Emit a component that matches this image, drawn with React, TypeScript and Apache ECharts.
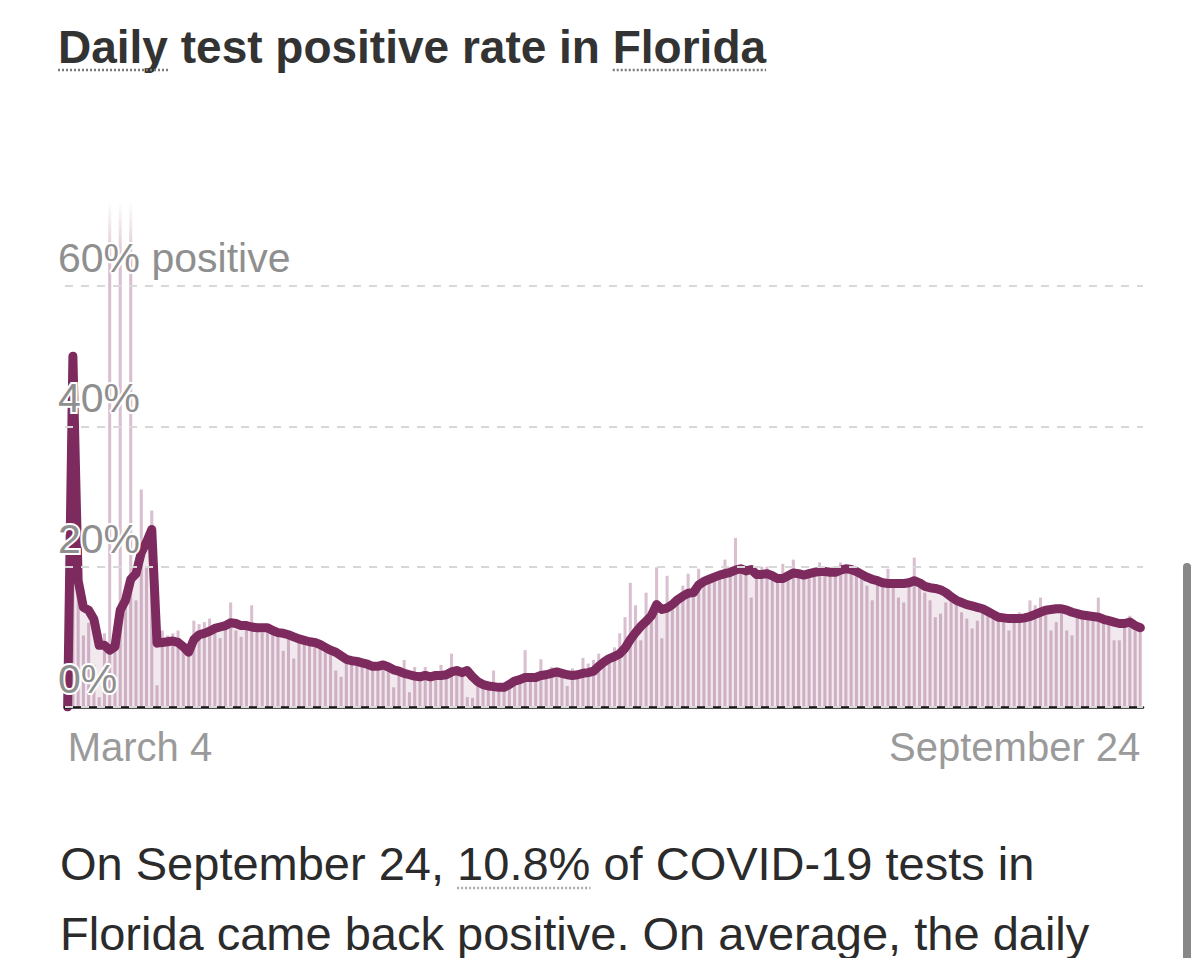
import React, { useEffect, useRef } from "react";
import * as echarts from "echarts";

// Daily share of COVID-19 tests that came back positive in Florida (%), March 4 – September 24
const dailyRate: number[] = [
  0, 48, 16, 10.2, 12, 6, 1.4, 10.5, 72, 8.5,
  72, 14.5, 72, 15.2, 31, 20, 28, 3.1, 10.9, 10.2,
  10.5, 10.9, 8.1, 7.9, 12.3, 11.8, 12.1, 12.6, 10.5, 9.8,
  11.5, 14.9, 10.9, 10.0, 11.2, 14.5, 11.0, 10.6, 11.2, 10.4,
  10.8, 8.0, 9.8, 6.9, 9.2, 9.6, 8.8, 9.0, 8.3, 8.6,
  7.9, 5.2, 4.3, 6.5, 6.4, 6.2, 5.9, 6.0, 5.6, 5.2,
  6.1, 5.5, 2.8, 5.0, 6.7, 2.1, 5.7, 4.0, 5.7, 3.8,
  4.1, 6.0, 4.4, 7.6, 5.0, 4.6, 1.4, 1.3, 3.0, 2.6,
  2.9, 5.2, 2.5, 2.7, 3.6, 3.8, 3.7, 8.1, 3.9, 4.0,
  6.8, 4.4, 5.7, 4.7, 4.5, 3.0, 5.5, 4.5, 7.0, 6.2,
  6.7, 7.6, 6.5, 7.5, 8.5, 10.5, 12.8, 17.7, 14.5, 9.5,
  16.3, 13.5, 19.9, 9.8, 18.7, 14.0, 15.5, 17.3, 19.0, 16.0,
  19.7, 18.0, 18.5, 18.6, 19.0, 21.0, 19.0, 24.1, 19.8, 19.2,
  15.6, 19.0, 20.0, 20.0, 18.5, 18.0, 20.4, 18.5, 21.0, 18.8,
  18.5, 19.0, 19.3, 20.6, 19.0, 19.2, 18.9, 20.6, 19.6, 19.5,
  19.0, 18.6, 17.3, 15.2, 18.0, 17.5, 19.7, 17.2, 15.6, 14.9,
  17.5, 21.3, 17.6, 16.3, 15.2, 12.8, 13.3, 14.9, 15.3, 15.0,
  13.5, 12.6, 11.2, 12.3, 13.8, 13.2, 12.9, 12.5, 12.4, 10.9,
  12.3, 13.5, 12.5, 15.2, 14.5, 15.6, 13.5, 10.9, 12.1, 13.9,
  10.9, 10.2, 13.0, 12.8, 12.9, 12.6, 15.6, 12.2, 12.0, 9.5,
  9.5, 11.8, 13.0, 10.9, 10.8,
];

// Seven-day average (%)
const weeklyAverage: number[] = [
  0, 50, 18, 14.2, 13.8, 12.5, 8.8, 8.8, 8.1, 8.6,
  13.8, 15.2, 18.2, 19.0, 22.0, 23.5, 25.3, 9.1, 9.2, 9.3,
  9.4, 9.2, 8.6, 7.8, 9.6, 10.3, 10.5, 10.8, 11.2, 11.4,
  11.6, 12.0, 11.9, 11.6, 11.6, 11.4, 11.3, 11.3, 11.3, 10.9,
  10.6, 10.5, 10.3, 10.0, 9.7, 9.5, 9.3, 9.2, 8.9, 8.5,
  8.1, 7.8, 7.3, 6.8, 6.6, 6.5, 6.3, 6.1, 5.8, 5.8,
  6.0, 5.7, 5.3, 5.1, 4.8, 4.6, 4.4, 4.3, 4.5, 4.3,
  4.5, 4.5, 4.6, 5.0, 5.2, 4.9, 5.2, 4.3, 3.6, 3.2,
  3.0, 2.9, 2.8, 2.8, 3.2, 3.7, 3.9, 4.2, 4.2, 4.2,
  4.5, 4.6, 4.8, 5.0, 4.8, 4.6, 4.5, 4.6, 4.8, 4.9,
  5.1, 5.8, 6.4, 6.9, 7.2, 7.6, 8.4, 9.6, 10.6, 11.5,
  12.2, 13.0, 14.6, 13.9, 14.1, 14.6, 15.3, 15.8, 16.2, 16.3,
  17.4, 17.9, 18.2, 18.5, 18.8, 19.0, 19.2, 19.5, 19.7, 19.4,
  19.6, 18.9, 18.9, 19.0, 18.7, 18.3, 18.3, 18.7, 19.1, 19.0,
  18.8, 19.0, 19.2, 19.3, 19.3, 19.2, 19.2, 19.5, 19.7, 19.6,
  19.3, 18.9, 18.5, 18.2, 18.0, 17.7, 17.6, 17.6, 17.6, 17.6,
  17.7, 18.0, 17.7, 17.2, 17.0, 16.9, 16.7, 16.3, 15.7, 15.2,
  14.9, 14.6, 14.4, 14.2, 14.0, 13.6, 13.2, 12.8, 12.7, 12.6,
  12.6, 12.6, 12.7, 12.9, 13.2, 13.5, 13.8, 13.9, 14.0, 14.0,
  13.8, 13.5, 13.3, 13.1, 13.0, 12.9, 12.8, 12.5, 12.3, 12.1,
  11.9, 11.9, 12.1, 11.6, 11.3,
];

const monthNames = [
  "January", "February", "March", "April", "May", "June",
  "July", "August", "September", "October", "November", "December",
];
const firstDay = { year: 2020, month: 2, day: 4 };

const yTicks: number[] = [0, 20, 40, 60];
const yTopLabelSuffix = " positive";

const titleText = "Daily test positive rate in Florida";
const titleUnderlined = ["Daily", "Florida"];
const bodyLine1Before = "On September 24, ";
const bodyHighlight = "10.8%";
const bodyLine1After = " of COVID-19 tests in";
const bodyLine2 = "Florida came back positive. On average, the daily";

const FONT = '"Liberation Sans", Arial, Helvetica, sans-serif';

function buildDates(n: number): string[] {
  const out: string[] = [];
  const d = new Date(firstDay.year, firstDay.month, firstDay.day);
  for (let i = 0; i < n; i++) {
    out.push(`${monthNames[d.getMonth()]} ${d.getDate()}`);
    d.setDate(d.getDate() + 1);
  }
  return out;
}

function measure(text: string, font: string): number {
  const c = document.createElement("canvas").getContext("2d");
  if (!c) return text.length * 20;
  c.font = font;
  return c.measureText(text).width;
}

export default function App() {
  const ref = useRef<HTMLDivElement>(null);

  useEffect(() => {
    if (!ref.current) return;
    const chart = echarts.init(ref.current, undefined, { renderer: "svg" });
    const dates = buildDates(dailyRate.length);
    const yMax = yTicks[yTicks.length - 1];
    const yStep = yTicks[1] - yTicks[0];

    const barBase = "#d9bfcf";
    const barData = dailyRate.map((v) =>
      v > yMax
        ? {
            value: v,
            itemStyle: {
              color: new echarts.graphic.LinearGradient(0, 0, 0, 1, [
                { offset: 0, color: "rgba(217,191,207,0)" },
                { offset: 0.12, color: barBase },
                { offset: 1, color: barBase },
              ]),
            },
          }
        : v
    );

    const titleFont = `bold 46px ${FONT}`;
    const bodyFont = `47px ${FONT}`;
    const titleX = 58;
    const w1Start = titleX;
    const w1Width = measure(titleUnderlined[0], titleFont);
    const w2Start = titleX + measure(titleText.slice(0, titleText.lastIndexOf(titleUnderlined[1])), titleFont);
    const w2Width = measure(titleUnderlined[1], titleFont);
    const bodyX = 60;
    const hlStart = bodyX + measure(bodyLine1Before, bodyFont);
    const hlWidth = measure(bodyHighlight, bodyFont);

    const dotted = (x1: number, x2: number, y: number, color: string) => ({
      type: "line",
      shape: { x1, y1: y, x2, y2: y },
      style: { stroke: color, lineWidth: 2.5, lineDash: [2, 2] },
      silent: true,
    });

    const axisLabelBase = {
      fontSize: 40,
      color: "#9a9a9a",
      fontFamily: FONT,
      margin: 20,
    };

    chart.setOption({
      animation: false,
      grid: { left: 65, right: 57, top: 286, bottom: 251, containLabel: false },
      xAxis: [
        {
          type: "category",
          data: dates,
          boundaryGap: true,
          z: 5,
          axisLine: { show: true, lineStyle: { color: "#151515", width: 2.5 } },
          axisTick: { show: false },
          splitLine: { show: false },
          axisLabel: {
            ...axisLabelBase,
            interval: (i: number) => i === 0,
            align: "left",
          },
        },
        {
          type: "category",
          data: dates,
          position: "bottom",
          boundaryGap: true,
          axisLine: { show: false },
          axisTick: { show: false },
          splitLine: { show: false },
          axisLabel: {
            ...axisLabelBase,
            interval: (i: number) => i === dates.length - 1,
            align: "right",
          },
        },
      ],
      yAxis: {
        type: "value",
        min: 0,
        max: yMax,
        interval: yStep,
        z: 6,
        axisLine: { show: false },
        axisTick: { show: false },
        splitLine: {
          show: true,
          lineStyle: { color: "#d8d8d8", width: 2, type: [8, 8] },
        },
        axisLabel: {
          inside: true,
          margin: -7,
          fontSize: 41,
          fontFamily: FONT,
          color: "#8f8f8f",
          verticalAlign: "bottom",
          lineHeight: 40,
          padding: [0, 0, 8, 0],
          textBorderColor: "#ffffff",
          textBorderWidth: 4,
          formatter: (v: number) => (v === yMax ? `${v}%${yTopLabelSuffix}` : `${v}%`),
        },
      },
      series: [
        {
          type: "bar",
          data: barData,
          barWidth: "58%",
          clip: false,
          itemStyle: { color: barBase },
          silent: true,
        },
        {
          type: "line",
          data: weeklyAverage,
          symbol: "none",
          showSymbol: false,
          smooth: false,
          lineStyle: { color: "#7d2b5e", width: 9, cap: "round", join: "round" },
          areaStyle: { color: "rgba(125,43,94,0.15)" },
          silent: true,
        },
      ],
      graphic: [
        {
          type: "text",
          x: titleX,
          y: 47,
          style: {
            text: titleText,
            font: titleFont,
            fill: "#333333",
            verticalAlign: "middle",
            align: "left",
          },
        },
        dotted(w1Start, w1Start + w1Width, 70, "#7a7a7a"),
        dotted(w2Start, w2Start + w2Width, 70, "#7a7a7a"),
        {
          type: "text",
          x: bodyX,
          y: 863,
          style: {
            text: bodyLine1Before + bodyHighlight + bodyLine1After,
            font: bodyFont,
            fill: "#2b2b2b",
            verticalAlign: "middle",
            align: "left",
          },
        },
        dotted(hlStart, hlStart + hlWidth, 888, "#a8a8a8"),
        {
          type: "text",
          x: bodyX,
          y: 933,
          style: {
            text: bodyLine2,
            font: bodyFont,
            fill: "#2b2b2b",
            verticalAlign: "middle",
            align: "left",
          },
        },
        {
          type: "rect",
          shape: { x: 1183, y: 563, width: 8, height: 420, r: 4 },
          style: { fill: "#888888" },
        },
      ],
    });

    return () => chart.dispose();
  }, []);

  return (
    <div
      ref={ref}
      style={{ position: "fixed", left: 0, top: 0, width: 1200, height: 958, background: "#ffffff" }}
    />
  );
}
